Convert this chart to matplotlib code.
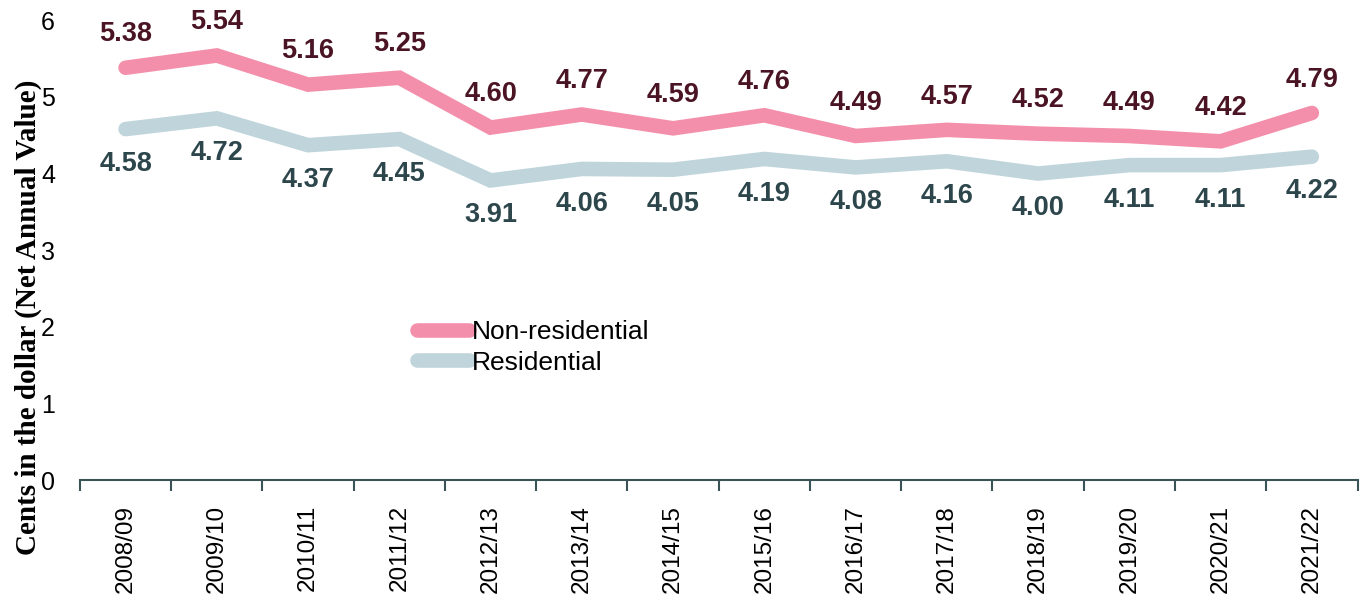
import numpy as np
import matplotlib.pyplot as plt
from matplotlib.lines import Line2D

years = ["2008/09", "2009/10", "2010/11", "2011/12", "2012/13", "2013/14", "2014/15",
         "2015/16", "2016/17", "2017/18", "2018/19", "2019/20", "2020/21", "2021/22"]
non_residential = [5.38, 5.54, 5.16, 5.25, 4.60, 4.77, 4.59, 4.76, 4.49, 4.57, 4.52, 4.49, 4.42, 4.79]
residential = [4.58, 4.72, 4.37, 4.45, 3.91, 4.06, 4.05, 4.19, 4.08, 4.16, 4.00, 4.11, 4.11, 4.22]

pink = "#F48FAB"
blue = "#BFD5DB"
pink_text = "#4A1424"
blue_text = "#2C464C"
axis_color = "#3A5357"

plt.rcParams["font.family"] = ["Liberation Sans", "DejaVu Sans"]

fig = plt.figure(figsize=(13.62, 5.95), dpi=100)
ax = fig.add_axes([0.0587, 0.193, 0.938, 0.773])

x = np.arange(len(years))
ax.plot(x, non_residential, color=pink, lw=10.5, solid_capstyle="round", solid_joinstyle="miter")
ax.plot(x, residential, color=blue, lw=10.5, solid_capstyle="round", solid_joinstyle="miter")

for xi, v in zip(x, non_residential):
    ax.annotate(f"{v:.2f}", (xi, v), xytext=(0, 24), textcoords="offset points",
                ha="center", va="center", fontsize=19.5, fontweight="bold", color=pink_text)
for xi, v in zip(x, residential):
    ax.annotate(f"{v:.2f}", (xi, v), xytext=(0, -25), textcoords="offset points",
                ha="center", va="center", fontsize=19.5, fontweight="bold", color=blue_text)

ax.set_xlim(-0.5, len(years) - 0.5)
ax.set_ylim(0, 6)
ax.set_yticks(range(0, 7))
ax.tick_params(axis="y", length=0, labelsize=18, pad=18)

# category boundaries get tick marks, labels sit in the middle
ax.set_xticks(np.arange(-0.5, len(years)), minor=False)
ax.set_xticklabels([])
ax.set_xticks(x, minor=True)
ax.set_xticklabels(years, minor=True, rotation=90, fontsize=17.5)
ax.tick_params(axis="x", which="major", length=8, width=1.5, color=axis_color)
ax.tick_params(axis="x", which="minor", length=0, pad=18)

for side in ["top", "right", "left"]:
    ax.spines[side].set_visible(False)
ax.spines["bottom"].set_color(axis_color)
ax.spines["bottom"].set_linewidth(1.5)

ax.set_ylabel("Cents in the dollar (Net Annual Value)", fontsize=21, fontweight="bold",
              family="Liberation Serif")
ax.yaxis.set_label_coords(-0.030, 0.355)

handles = [
    Line2D([0], [0], color=pink, lw=10.5, solid_capstyle="round", label="Non-residential"),
    Line2D([0], [0], color=blue, lw=10.5, solid_capstyle="round", label="Residential"),
]
ax.legend(handles=handles, loc="upper left", bbox_to_anchor=(0.245, 0.40), frameon=False,
          fontsize=19, handlelength=2.0, handletextpad=0.1, labelspacing=0.25)

fig.savefig("out.png", dpi=100)
